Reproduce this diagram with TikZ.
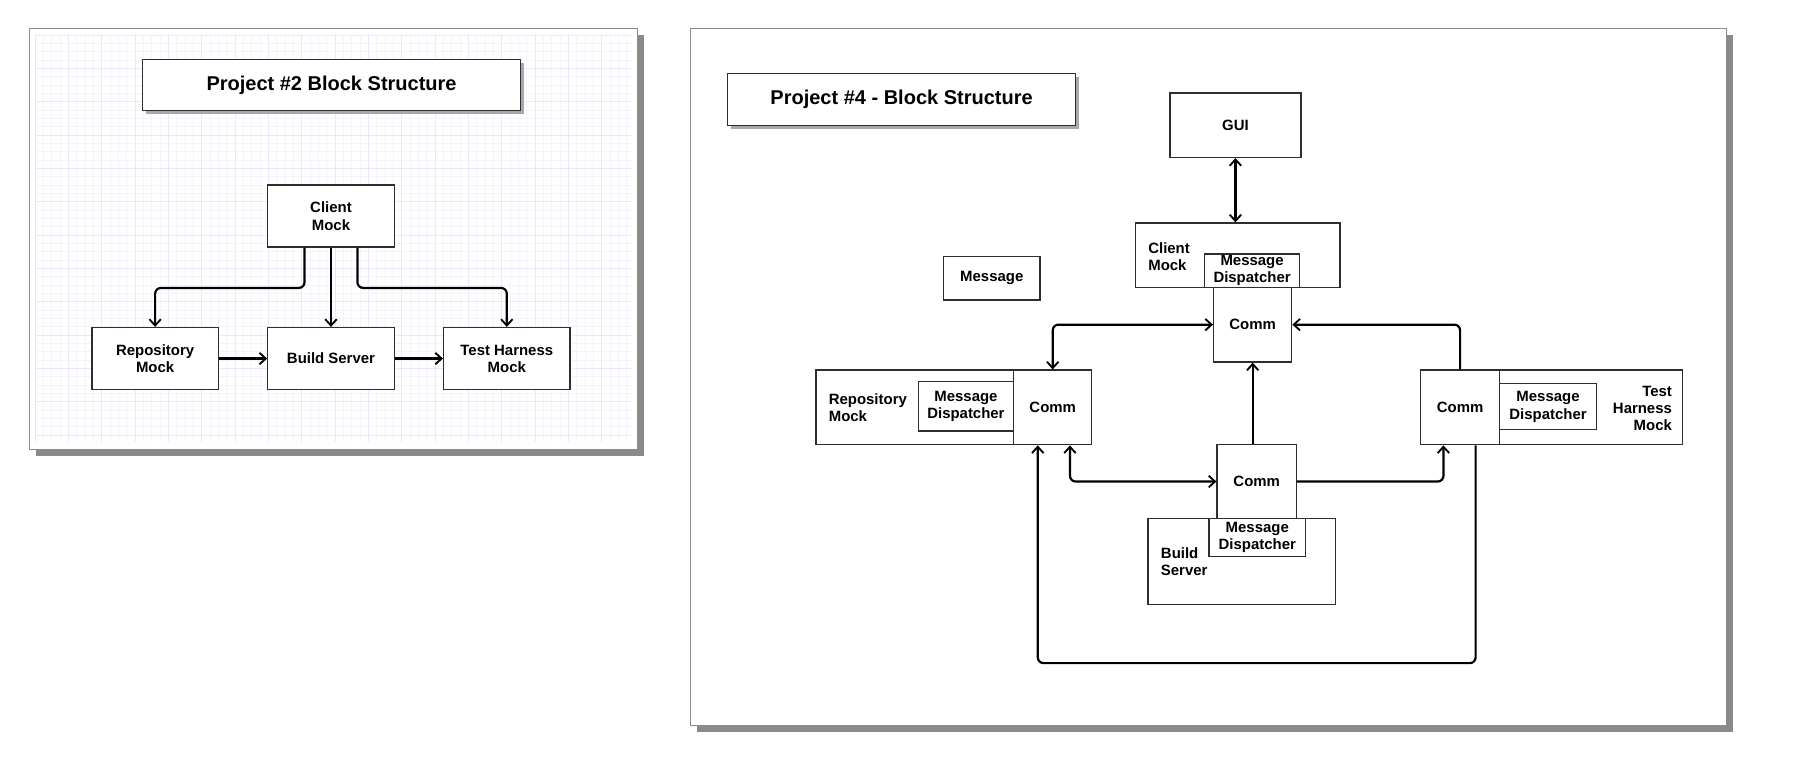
\documentclass[tikz,border=0pt]{standalone}
\usepackage{fontspec}
\setmainfont{Liberation Sans}
\usetikzlibrary{arrows.meta}
\definecolor{shd}{HTML}{8A8A8A}
\definecolor{tshd}{HTML}{A8A8A8}
\definecolor{frm}{HTML}{8C8C8C}
\definecolor{gmin}{HTML}{F3F2FD}
\definecolor{gmaj}{HTML}{E9E7FB}
\definecolor{bdr}{HTML}{2E2E2E}
\begin{document}
\begin{tikzpicture}[x=1pt,y=-1pt]
\tikzset{
 blk/.style={draw=bdr, line width=1.1pt, fill=white, inner sep=0pt, align=center, font=\bfseries\fontsize{13}{15}\selectfont},
 ttl/.style={blk, font=\bfseries\fontsize{17.4}{20}\selectfont},
 lbl/.style={inner sep=0pt, font=\bfseries\fontsize{13}{15}\selectfont},
 tip/.tip={Straight Barb[length=5.5pt,width=10pt,line width=1.6pt]},
 conn/.style={line width=1.9pt, rounded corners=5pt, -tip},
 conn2/.style={line width=1.9pt, rounded corners=5pt, tip-tip},
}
\useasboundingbox (0,0) rectangle (1568,658);
\fill[white] (0,0) rectangle (1568,658);

% ---------- left panel ----------
\fill[shd] (31.2,30.3) rectangle (560.3,396.7);
\draw[frm, fill=white, line width=0.8pt] (25.5,24.6) rectangle (554.6,391);
\begin{scope}
\clip (30.5,30.5) rectangle (549.7,384.6);
\foreach \i in {0,...,72}{
  \pgfmathsetmacro{\xx}{30.5+\i*7.25}
  \pgfmathtruncatemacro{\m}{mod(\i,4)}
  \ifnum\m=0 \def\gc{gmaj}\else\def\gc{gmin}\fi
  \draw[\gc, line width=0.6pt] (\xx,30.5) -- (\xx,384.6);
}
\foreach \i in {0,...,49}{
  \pgfmathsetmacro{\yy}{30.5+\i*7.25}
  \pgfmathtruncatemacro{\m}{mod(\i,4)}
  \ifnum\m=0 \def\gc{gmaj}\else\def\gc{gmin}\fi
  \draw[\gc, line width=0.6pt] (30.5,\yy) -- (549.7,\yy);
}
\end{scope}

\fill[tshd] (127,55) rectangle (456,99);
\node[ttl, minimum width=329pt, minimum height=44pt] (title2) at (288.5,74) {\raisebox{-1.5pt}{Project \#2 Block Structure}};

\node[blk, minimum width=110pt, minimum height=54pt] (client2) at (288,188) {Client\\Mock};
\node[blk, minimum width=110pt, minimum height=54pt] (repo2) at (135,312) {Repository\\Mock};
\node[blk, minimum width=110pt, minimum height=54pt] (build2) at (288,312) {Build Server};
\node[blk, minimum width=110pt, minimum height=54pt] (test2) at (441,312) {Test Harness\\Mock};

\draw[conn] ([xshift=-23pt]client2.south) -- ++(0,35) -| (repo2.north);
\draw[conn] (client2.south) -- (build2.north);
\draw[conn] ([xshift=23pt]client2.south) -- ++(0,35) -| (test2.north);
\draw[conn] (repo2.east) -- (build2.west);
\draw[conn] (build2.east) -- (test2.west);

% ---------- right panel ----------
\fill[shd] (606.1,30.7) rectangle (1507.7,636.7);
\draw[frm, fill=white, line width=0.8pt] (600.4,25) rectangle (1502,631);

\fill[tshd] (636,67) rectangle (939,112);
\node[ttl, minimum width=303pt, minimum height=45pt] (title4) at (784.5,86.5) {\raisebox{-1.5pt}{Project \#4 - Block Structure}};

\node[blk, minimum width=114pt, minimum height=56pt] (gui) at (1075,109) {GUI};
\node[blk, minimum width=84pt, minimum height=38pt] (message) at (863,242) {Message};

% client mock
\node[blk, minimum width=178pt, minimum height=56pt] (clientbox) at (1077,222) {};
\node[lbl, anchor=west, align=left] (clientlbl) at (999,223) {Client\\Mock};
\node[blk, minimum width=83pt, minimum height=29pt] (cmd) at (1089.5,235.5) {Message\\Dispatcher};
\node[blk, minimum width=68pt, minimum height=65pt] (ccomm) at (1090,282.5) {Comm};

% repository mock
\node[blk, minimum width=240pt, minimum height=65pt] (repobox) at (830,354.5) {};
\node[lbl, anchor=west, align=left] (repolbl) at (721,355) {Repository\\Mock};
\node[blk, minimum width=83pt, minimum height=43pt] (rmd) at (840.5,353.5) {Message\\Dispatcher};
\node[blk, minimum width=68pt, minimum height=65pt] (rcomm) at (916,354.5) {Comm};

% test harness mock
\node[blk, minimum width=228pt, minimum height=65pt] (testbox) at (1350,354.5) {};
\node[lbl, anchor=east, align=right] (testlbl) at (1455,355.5) {Test\\Harness\\Mock};
\node[blk, minimum width=84pt, minimum height=40pt] (tmd) at (1347,354) {Message\\Dispatcher};
\node[blk, minimum width=69pt, minimum height=65pt] (tcomm) at (1270.5,354.5) {Comm};

% build server
\node[blk, minimum width=163pt, minimum height=75pt] (buildbox) at (1080.5,488.5) {};
\node[lbl, anchor=west, align=left] (buildlbl) at (1010,489) {Build\\Server};
\node[blk, minimum width=84pt, minimum height=33pt] (bmd) at (1094,467.5) {Message\\Dispatcher};
\node[blk, minimum width=69pt, minimum height=64pt] (bcomm) at (1093.5,419) {Comm};

% connectors
\draw[conn2] (gui.south) -- (gui.south |- clientbox.north);
\draw[conn2] (ccomm.west) -| (rcomm.north);
\draw[conn] (tcomm.north) |- (ccomm.east);
\draw[conn] (ccomm.south |- bcomm.north) -- (ccomm.south);
\draw[conn2] ([xshift=15pt]rcomm.south) |- (bcomm.west);
\draw[conn] (bcomm.east) -| ([xshift=-14.5pt]tcomm.south);
\coordinate (loopr) at (1284,577);
\draw[conn] ([xshift=13.5pt]tcomm.south) -- (loopr) -| ([xshift=-13pt]rcomm.south);
\end{tikzpicture}
\end{document}
